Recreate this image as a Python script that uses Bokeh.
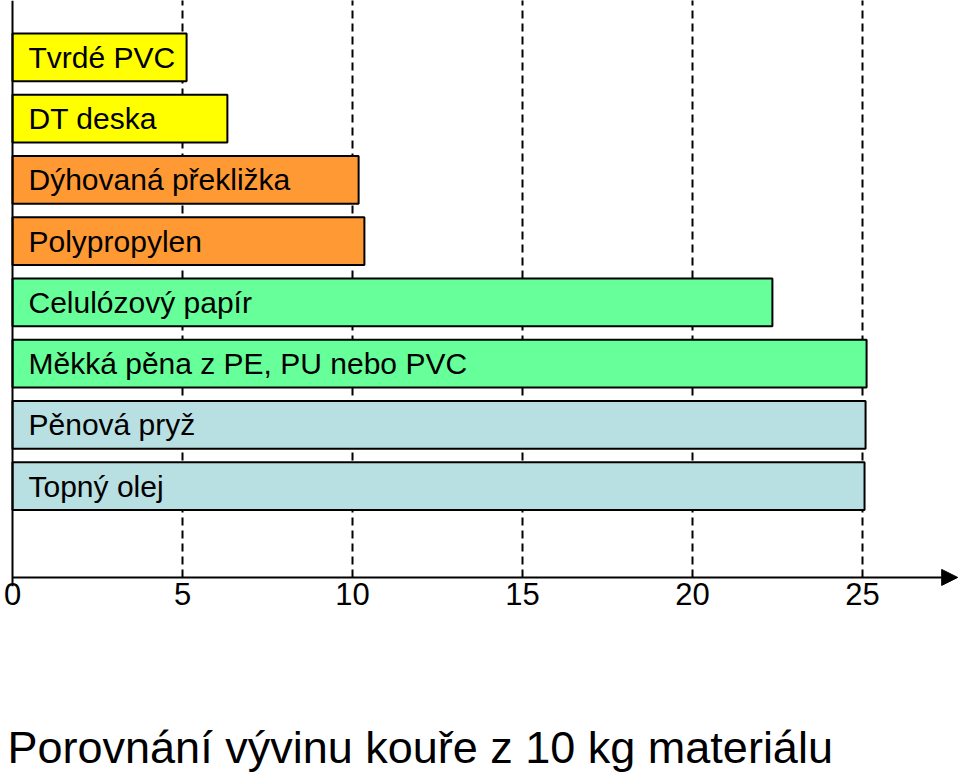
from bokeh.plotting import figure
from bokeh.models import Range1d, FixedTicker, Span, Arrow, NormalHead, Title, ColumnDataSource
from bokeh.core.properties import value
from bokeh.embed import file_html
from bokeh.resources import INLINE

categories = ["Topný olej", "Pěnová pryž", "Měkká pěna z PE, PU nebo PVC", "Celulózový papír",
              "Polypropylen", "Dýhovaná překližka", "DT deska", "Tvrdé PVC"]
values = [25.06, 25.09, 25.12, 22.35, 10.35, 10.18, 6.32, 5.12]
colors = ["#B8DFE1", "#B8DFE1", "#66FF99", "#66FF99", "#FF9933", "#FF9933", "#FFFF00", "#FFFF00"]
ticks = [0, 5, 10, 15, 20, 25]
title_text = "Porovnání vývinu kouře z 10 kg materiálu"

FONT = "Liberation Sans"
AXIS_Y = -1.49

src = ColumnDataSource(dict(y=list(range(len(categories))), right=values, color=colors, label=categories))

p = figure(width=960, height=782, output_backend="svg", toolbar_location=None,
           x_range=Range1d(-12 / 34, 948 / 34), y_range=Range1d(-1.638, 7.93),
           min_border_left=0, min_border_right=0, min_border_top=0, min_border_bottom=195)
p.outline_line_color = None
p.yaxis.visible = False
p.ygrid.visible = False

xa = p.xaxis[0]
xa.ticker = FixedTicker(ticks=ticks)
xa.axis_line_color = None
xa.major_tick_line_color = None
xa.minor_tick_line_color = None
xa.major_label_text_font = FONT
xa.major_label_text_font_size = "31px"
xa.major_label_text_color = "black"
xa.major_label_standoff = -10

p.xgrid.ticker = FixedTicker(ticks=ticks[1:])
p.xgrid.grid_line_color = "black"
p.xgrid.grid_line_width = 2
p.xgrid.grid_line_dash = "8 5"
p.xgrid.cross_bounds = (AXIS_Y, 8)

p.add_layout(Span(location=0, dimension="height", line_color="black", line_width=2))

p.hbar(y="y", left=0, right="right", height=0.78, fill_color="color", line_color="black",
       line_width=2, source=src)
p.text(x=0, y="y", text="label", x_offset=16, text_baseline="middle", text_align="left",
       text_font=value(FONT), text_font_size="30px", text_color="black", source=src)

p.add_layout(Arrow(x_start=0, y_start=AXIS_Y, x_end=27.8, y_end=AXIS_Y, line_color="black",
                   line_width=2, end=NormalHead(size=16, fill_color="black", line_color="black")))

t = Title(text="\n\n" + title_text, align="left", text_font=FONT, text_font_size="45px",
          text_font_style="normal", text_color="black", standoff=20, offset=7)
p.add_layout(t, "below")

open("out.html", "w").write(file_html(p, INLINE))
